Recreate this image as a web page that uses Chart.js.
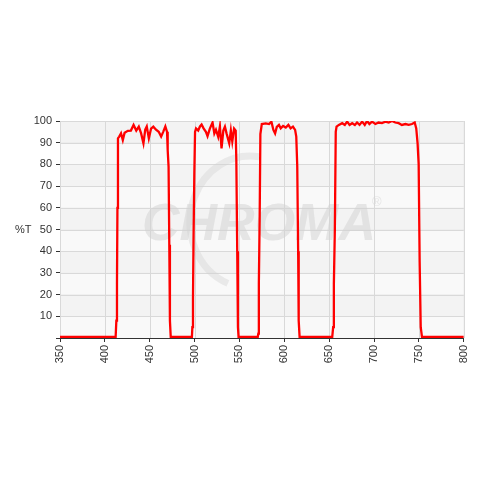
<!DOCTYPE html>
<html>
<head>
<meta charset="utf-8">
<script src="https://cdn.jsdelivr.net/npm/chart.js@4/dist/chart.umd.min.js"></script>
<style>
  html, body { margin: 0; padding: 0; background: #fff; }
  #wrap { width: 480px; height: 480px; }
</style>
</head>
<body>
<div id="wrap"><canvas id="filterChart" width="480" height="480"></canvas></div>
<script>
// wavelength (nm) and transmission (%T)
let wavelength = [
  350, 412, 412.8, 413.5, 414, 414.6, 416, 418, 420, 422, 425.6, 429, 432, 435, 437.8, 440.4, 443, 445, 446.7,
  449, 451.5, 454, 457, 460, 462.7, 465, 467.4, 469.3, 470, 471, 471.8, 472.5, 473.4,
  497, 497.5, 498.2, 498.8, 499.7, 500.5, 501.6, 504, 506, 507.8, 510, 512.6, 514.4, 517, 520, 522, 523.8,
  526.3, 528.2, 530, 532, 533.8, 535.6, 538.6, 540.4, 542, 544, 545.8, 546.5, 547.5, 548.3, 549,
  570.4, 571, 571.6, 572.5, 573.3, 574.9, 579.3, 583, 585.6, 587.8, 589.7, 591.6, 594, 596, 598.6, 601.6,
  604.5, 607, 609.6, 612, 613.3, 614.4, 615.4, 616, 617,
  653.4, 654.4, 655.2, 656.3, 657.3, 658.2, 660.8, 664.5, 667.4, 670, 672.7, 675.6, 678.6, 681, 683.8, 686.7,
  689.6, 692.2, 694.8, 697.7, 701.5, 705, 708.8, 712.6, 716.3, 720, 723.6, 727.4, 731, 735, 738.6, 742.3,
  745.3, 747, 748.5, 749.7, 750.8, 752, 753.4, 800
];
let transmission = [
  0.5, 0.5, 8, 25, 60, 92, 92.8, 94.3, 91.2, 94.6, 95.5, 95.6, 98.2, 95.6, 97.4, 94.3, 89.7, 96, 97.5,
  92, 96.5, 97.4, 96, 95, 92.8, 95, 97.5, 95, 86.6, 79, 43, 8, 0.5,
  0.5, 5, 18, 45, 76, 95, 96.6, 95.6, 97.5, 98.4, 96.6, 95, 93, 96.5, 99.3, 94.3, 96,
  92.7, 97.5, 87.4, 95.6, 97.4, 94.3, 89.7, 95.6, 90.6, 96.5, 95.5, 82, 40, 5, 0.5,
  0.5, 2, 25, 55, 94, 98.6, 98.9, 98.6, 99.7, 95.9, 94.3, 97.3, 98.2, 96.6, 97.7, 97,
  98.2, 96.6, 97.4, 95.9, 92.8, 79, 40, 8, 0.5,
  0.5, 5, 25, 50, 95, 97.4, 98.2, 99, 98.2, 99.7, 98.2, 99, 98.2, 99.3, 98.2, 99.7,
  98.2, 100, 98.6, 99.7, 98.6, 99.3, 99, 99.7, 99.3, 100, 99.3, 99, 98.2, 98.6, 98.2, 98.6,
  99.3, 96.6, 89.7, 80, 35, 5, 0.5, 0.5
];
let xTicks = [350, 400, 450, 500, 550, 600, 650, 700, 750, 800];
let yTicks = [10, 20, 30, 40, 50, 60, 70, 80, 90, 100];

let points = wavelength.map((w, i) => ({ x: w, y: transmission[i] }));
let tickFont = { family: "'Liberation Sans', Arial, sans-serif", size: 11 };

// shaded rows, watermark and the "%T" label
let backdrop = {
  id: "backdrop",
  beforeDatasetsDraw(chart) {
    let c = chart.ctx;
    let area = chart.chartArea;
    let ys = chart.scales.y;
    c.save();
    for (let v = 0; v < 100; v += 10) {
      let top = ys.getPixelForValue(v + 10);
      let bot = ys.getPixelForValue(v);
      c.fillStyle = (v / 10) % 2 === 1 ? "#f3f3f3" : "#f9f9f9";
      c.fillRect(area.left, top, area.right - area.left, bot - top);
    }
    // grid again on top of the fills
    c.strokeStyle = "#d9d9d9";
    c.lineWidth = 1;
    yTicks.forEach((v) => {
      let y = Math.round(ys.getPixelForValue(v)) + 0.5;
      c.beginPath(); c.moveTo(area.left, y); c.lineTo(area.right, y); c.stroke();
    });
    xTicks.forEach((v) => {
      let x = Math.round(chart.scales.x.getPixelForValue(v)) + 0.5;
      c.beginPath(); c.moveTo(x, area.top); c.lineTo(x, area.bottom); c.stroke();
    });
    // watermark
    c.strokeStyle = "rgba(210,210,210,0.4)";
    c.lineWidth = 7;
    c.beginPath();
    c.ellipse(250, 222, 60, 66, 0, Math.PI * 0.62, Math.PI * 1.55);
    c.stroke();
    c.fillStyle = "rgba(210,210,210,0.5)";
    c.font = "italic bold 52px 'Liberation Sans', Arial, sans-serif";
    c.textAlign = "left";
    c.textBaseline = "alphabetic";
    c.fillText("CHROMA", 142, 240);
    c.font = "13px 'Liberation Sans', Arial, sans-serif";
    c.fillText("®", 372, 206);
    c.restore();
  },
  afterDraw(chart) {
    let c = chart.ctx;
    c.save();
    c.fillStyle = "#333";
    c.font = "11px 'Liberation Sans', Arial, sans-serif";
    c.textAlign = "left";
    c.textBaseline = "middle";
    c.fillText("%T", 15, 230);
    c.restore();
  },
};

let ctx = document.getElementById("filterChart").getContext("2d");
let myChart = new Chart(ctx, {
  type: "line",
  data: {
    datasets: [
      {
        data: points,
        borderColor: "#ff0000",
        borderWidth: 2.3,
        pointRadius: 0,
        tension: 0,
        fill: false,
      },
    ],
  },
  options: {
    responsive: false,
    animation: false,
    layout: { padding: { left: 0, right: 14, top: 121, bottom: 0 } },
    plugins: {
      legend: { display: false },
      tooltip: { enabled: false },
    },
    scales: {
      x: {
        type: "linear",
        min: 350,
        max: 800,
        afterBuildTicks: (scale) => {
          scale.ticks = xTicks.map((v) => ({ value: v }));
        },
        afterFit: (scale) => { scale.height = 142; },
        ticks: { color: "#333", font: tickFont, minRotation: 90, maxRotation: 90, padding: 3 },
        grid: { color: "#d9d9d9", tickColor: "#333", tickLength: 4 },
        border: { color: "#333", width: 1 },
      },
      y: {
        min: 0,
        max: 100,
        afterBuildTicks: (scale) => {
          scale.ticks = [0].concat(yTicks).map((v) => ({ value: v }));
        },
        afterFit: (scale) => { scale.width = 60; },
        ticks: {
          color: "#333",
          font: tickFont,
          padding: 4,
          callback: (value) => (value === 0 ? "" : value),
        },
        grid: { color: "#d9d9d9", tickColor: "#333", tickLength: 4 },
        border: { color: "#333", width: 1 },
      },
    },
  },
  plugins: [backdrop],
});
</script>
</body>
</html>
